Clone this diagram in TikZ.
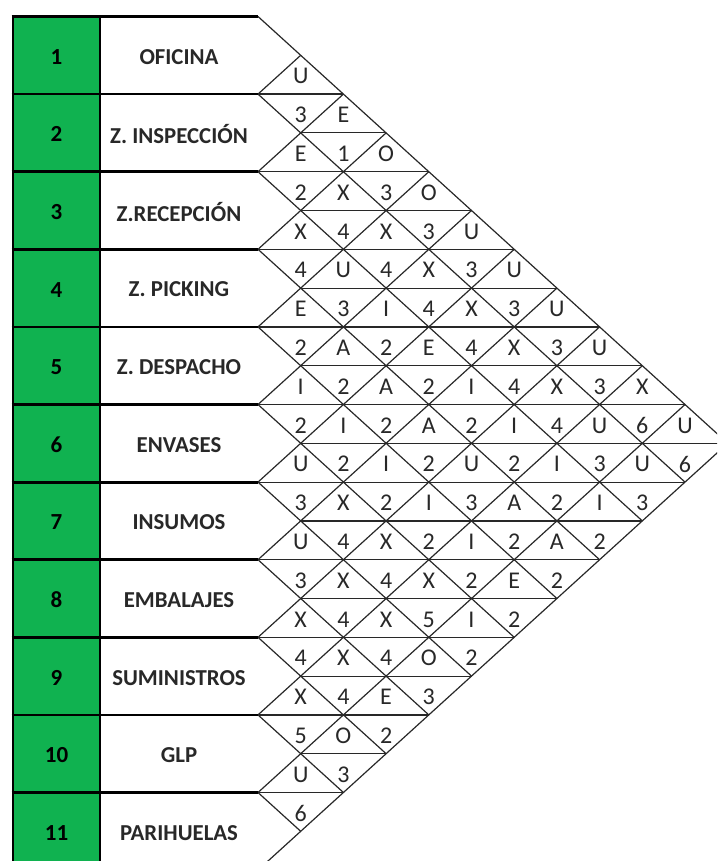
\documentclass[tikz,border=0pt]{standalone}
\usepackage{fontspec}
\setmainfont{Carlito}
\definecolor{xlgreen}{RGB}{16,178,80}
\definecolor{ink}{RGB}{40,40,40}
\begin{document}
\begin{tikzpicture}[x=1pt,y=-1pt,
  gridline/.style={line width=1.2pt,draw=ink},
  tableline/.style={line width=2.8pt,draw=black},
  cell/.style={font=\fontsize{24}{26}\selectfont,text=ink,inner sep=0pt},
  lab/.style={font=\fontsize{22.8}{24}\selectfont\bfseries,text=ink,inner sep=0pt},
  num/.style={font=\fontsize{23}{25}\selectfont\bfseries,text=black,inner sep=0pt}]
\def\W{42.7}
\def\H{38.8}
\def\Yz{16.5}
\def\Xs{258}
\useasboundingbox (0,0) rectangle (717,861);
\begin{scope}
\clip (0,0) rectangle (717,861);
% green column
\fill[xlgreen] (13,\Yz) rectangle (100,875);
% diagonals going down-right
\foreach \i in {0,...,10}
  \draw[gridline] (\Xs,{\Yz+2*\i*\H}) -- ({\Xs+(11-\i)*\W},{\Yz+(\i+11)*\H});
% diagonals going up-right
\foreach \i in {1,...,11}
  \draw[gridline] (\Xs,{\Yz+2*\i*\H}) -- ({\Xs+\i*\W},{\Yz+\i*\H});
% horizontal lines in the triangle
\foreach \m in {2,...,20}{
  \pgfmathsetmacro{\xa}{\Xs+mod(\m,2)*\W}
  \pgfmathsetmacro{\xb}{\Xs+min(\m,22-\m)*\W}
  \draw[gridline] (\xa,{\Yz+\m*\H}) -- (\xb,{\Yz+\m*\H});
}
% table lines
\foreach \i in {0,...,10}
  \draw[tableline] (11.6,{\Yz+2*\i*\H}) -- (\Xs,{\Yz+2*\i*\H});
\draw[tableline] (13,{\Yz-1.4}) -- (13,875);
\draw[tableline] (100,\Yz) -- (100,875);
\end{scope}
% department numbers and names
\foreach \n/\nm [count=\i] in {1/OFICINA,2/Z. INSPECCIÓN,3/Z.RECEPCIÓN,4/Z. PICKING,5/Z. DESPACHO,6/ENVASES,7/INSUMOS,8/EMBALAJES,9/SUMINISTROS,10/GLP,11/PARIHUELAS}{
  \node[num] (n\i) at (56.5,{\Yz+(2*\i-1)*\H+1.5}) {\n};
  \node[lab] (d\i) at (179,{\Yz+(2*\i-1)*\H+1.5}) {\nm};
}
% relationship cells
\foreach \row [count=\b] in {{U},{3,E},{E,1,O},{2,X,3,O},{X,4,X,3,U},{4,U,4,X,3,U},{E,3,I,4,X,3,U},{2,A,2,E,4,X,3,U},{I,2,A,2,I,4,X,3,X},{2,I,2,A,2,I,4,U,6,U},{U,2,I,2,U,2,I,3,U,6},{3,X,2,I,3,A,2,I,3},{U,4,X,2,I,2,A,2},{3,X,4,X,2,E,2},{X,4,X,5,I,2},{4,X,4,O,2},{X,4,E,3},{5,O,2},{U,3},{6}}{
  \foreach \t [count=\c] in \row {
    \node[cell] (t\b-\c) at ({\Xs+\c*\W},{\Yz+(\b+0.5)*\H+1.5}) {\t};
  }
}
\end{tikzpicture}
\end{document}
